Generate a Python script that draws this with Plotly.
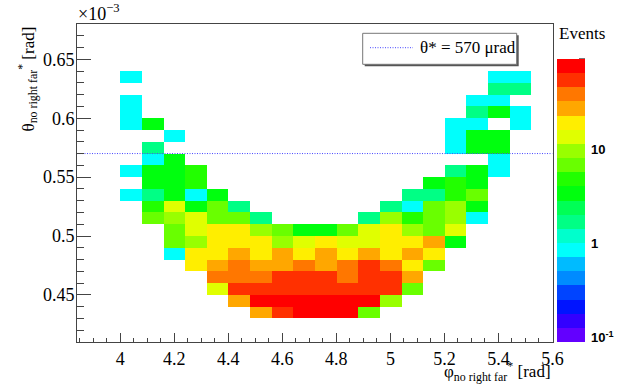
import math
import plotly.graph_objects as go

# ---------------- data ----------------
phi_centers = [3.88, 3.96, 4.04, 4.12, 4.20, 4.28, 4.36, 4.44, 4.52, 4.60, 4.68,
               4.76, 4.84, 4.92, 5.00, 5.08, 5.16, 5.24, 5.32, 5.40, 5.48, 5.56]
# theta* bin centres in units of 1e-3 rad, top row first
theta_centers = [0.675, 0.665, 0.655, 0.645, 0.635, 0.625, 0.615, 0.605, 0.595,
                 0.585, 0.575, 0.565, 0.555, 0.545, 0.535, 0.525, 0.515, 0.505,
                 0.495, 0.485, 0.475, 0.465, 0.455, 0.445, 0.435, 0.425, 0.415]
# events per cell (0 = empty), rows follow theta_centers
events = [
    [0,0,0,0,0,0,0,0,0,0,0,0,0,0,0,0,0,0,0,0,0,0],
    [0,0,0,0,0,0,0,0,0,0,0,0,0,0,0,0,0,0,0,0,0,0],
    [0,0,0,0,0,0,0,0,0,0,0,0,0,0,0,0,0,0,0,0,0,0],
    [0,0,0,0,0,0,0,0,0,0,0,0,0,0,0,0,0,0,0,0,0,0],
    [0,0,1,0,0,0,0,0,0,0,0,0,0,0,0,0,0,0,0,1,1,0],
    [0,0,0,0,0,0,0,0,0,0,0,0,0,0,0,0,0,0,0,2,2,0],
    [0,0,1,0,0,0,0,0,0,0,0,0,0,0,0,0,0,0,1,1,0,0],
    [0,0,1,0,0,0,0,0,0,0,0,0,0,0,0,0,0,0,2,3,1,0],
    [0,0,1,3,0,0,0,0,0,0,0,0,0,0,0,0,0,1,1,0,1,0],
    [0,0,0,0,1,0,0,0,0,0,0,0,0,0,0,0,0,1,3,3,0,0],
    [0,0,0,2,0,0,0,0,0,0,0,0,0,0,0,0,0,1,3,3,0,0],
    [0,0,0,1,3,0,0,0,0,0,0,0,0,0,0,0,0,0,0,1,0,0],
    [0,0,1,3,3,5,0,0,0,0,0,0,0,0,0,0,0,2,3,1,0,0],
    [0,0,0,3,3,5,0,0,0,0,0,0,0,0,0,0,3,5,3,0,0,0],
    [0,0,1,2,3,1,3,0,0,0,0,0,0,0,0,2,2,5,7,0,0,0],
    [0,0,0,5,14,3,7,2,0,0,0,0,0,0,2,1,7,10,3,0,0,0],
    [0,0,0,7,10,14,7,7,2,0,0,0,0,2,10,5,7,10,1,0,0,0],
    [0,0,0,0,7,14,19,19,10,7,3,3,7,14,19,10,7,14,0,0,0,0],
    [0,0,0,0,7,10,19,19,19,10,14,19,14,14,19,19,27,3,0,0,0,0],
    [0,0,0,0,1,19,19,27,19,27,19,27,19,27,19,27,19,0,0,0,0,0],
    [0,0,0,0,0,19,27,38,27,27,38,27,38,54,38,19,7,0,0,0,0,0],
    [0,0,0,0,0,0,38,38,38,54,54,54,38,54,54,27,0,0,0,0,0,0],
    [0,0,0,0,0,0,14,54,54,54,54,54,54,54,54,7,0,0,0,0,0,0],
    [0,0,0,0,0,0,0,27,78,78,78,78,78,78,10,0,0,0,0,0,0,0],
    [0,0,0,0,0,0,0,0,27,54,78,78,78,7,0,0,0,0,0,0,0,0],
    [0,0,0,0,0,0,0,0,0,0,0,0,0,0,0,0,0,0,0,0,0,0],
    [0,0,0,0,0,0,0,0,0,0,0,0,0,0,0,0,0,0,0,0,0,0],
]
theta_star = 0.570          # 570 urad, in 1e-3 rad
phi_range = [3.84, 5.6]
theta_range = [0.41, 0.68]
z_log_range = [-1.04, 1.96]  # colour axis, log10(events)
cbar_major = [0.1, 1, 10]
cbar_major_text = ["<b>10<sup>-1</sup></b>", "<b>1</b>", "<b>10</b>"]

# ROOT "pretty" palette with 20 contour levels
palette = ["#6300ff", "#3300ff", "#0014ff", "#0044ff", "#008bff", "#00bbff",
           "#00fffc", "#00ffcc", "#00ff85", "#00ff55", "#00ff0e", "#22ff00",
           "#69ff00", "#99ff00", "#e0ff00", "#ffee00", "#ffa700", "#ff7700",
           "#ff3000", "#ff0000"]

# ---------------- build ----------------
nb = len(palette)
colorscale = []
for k, c in enumerate(palette):
    colorscale.append([k / nb, c])
    colorscale.append([(k + 1) / nb, c])

zlog = [[(math.log10(v) if v > 0 else None) for v in row] for row in events]

W, H = 623, 388
ML, MR, MT, MB = 77, 38, 24, 46
PW, PH = W - ML - MR, H - MT - MB


def px(x):
    return (x - ML) / PW


def py(y):
    return (H - MB - y) / PH


CB_X0, CB_X1, CB_Y0, CB_Y1 = 557, 585, 341.7, 58.3   # palette box (pixels)
line_blue = "#4848ff"
line_dash = "1px,1.5px"
serif = "Liberation Serif"
axcol = "#444444"

fig = go.Figure()
# main 2D histogram with its palette
fig.add_trace(go.Heatmap(
    x=phi_centers, y=theta_centers, z=zlog,
    colorscale=colorscale, zmin=z_log_range[0], zmax=z_log_range[1],
    showscale=True, hoverongaps=False, xaxis="x", yaxis="y",
    colorbar=dict(x=px(CB_X0), xanchor="left", xpad=0, xref="paper",
                  y=py(CB_Y0), yanchor="bottom", ypad=0, yref="paper",
                  len=CB_Y0 - CB_Y1, lenmode="pixels",
                  thickness=CB_X1 - CB_X0, thicknessmode="pixels", outlinewidth=0,
                  tickmode="array", tickvals=[math.log10(v) for v in cbar_major],
                  ticktext=cbar_major_text, ticks="outside", ticklen=4,
                  tickcolor="rgba(0,0,0,0)", ticklabelposition="outside",
                  tickfont=dict(family="Liberation Sans", size=13, color="black"))))

fig.add_trace(go.Scatter(
    x=phi_range, y=[theta_star, theta_star], mode="lines",
    line=dict(color=line_blue, width=1, dash=line_dash),
    xaxis="x", yaxis="y", hoverinfo="skip", showlegend=False))

fig.update_layout(
    width=W, height=H,
    margin=dict(l=ML, r=MR, t=MT, b=MB, pad=0, autoexpand=False),
    paper_bgcolor="white", plot_bgcolor="white", showlegend=False,
    xaxis=dict(domain=[0, px(552.5)], range=phi_range, anchor="y",
               tick0=4, dtick=0.2, ticks="inside", ticklen=9, tickcolor=axcol,
               minor=dict(tick0=4, dtick=0.05, ticks="inside", ticklen=4.5, tickcolor=axcol),
               showline=True, mirror=True, linecolor=axcol, linewidth=1,
               showgrid=False, zeroline=False,
               tickfont=dict(family=serif, size=18, color="black")),
    yaxis=dict(domain=[0, 1], range=theta_range, anchor="x",
               tick0=0.45, dtick=0.05, ticks="inside", ticklen=14, tickcolor=axcol,
               minor=dict(tick0=0.45, dtick=0.01, ticks="inside", ticklen=7, tickcolor=axcol),
               showline=True, mirror=True, linecolor=axcol, linewidth=1,
               showgrid=False, zeroline=False, ticklabelstandoff=-2,
               tickfont=dict(family=serif, size=18, color="black")),
)

# palette tick marks (ROOT draws them on the right edge, pointing inwards)
for dec in [0.1, 1, 10]:
    for m in range(1, 10):
        v = math.log10(m * dec)
        if not (z_log_range[0] < v < z_log_range[1]):
            continue
        frac = (v - z_log_range[0]) / (z_log_range[1] - z_log_range[0])
        ypix = CB_Y0 - frac * (CB_Y0 - CB_Y1)
        tl = 11 if m == 1 else 6
        fig.add_shape(type="line", xref="paper", yref="paper",
                      x0=px(CB_X1 - tl), x1=px(CB_X1), y0=py(ypix), y1=py(ypix),
                      line=dict(color="#333333", width=1), layer="above")

# legend box (ROOT TLegend with shadow)
lx0, lx1, ly0, ly1 = 362.7, 516.7, 33.3, 64.3
fig.add_shape(type="rect", xref="paper", yref="paper",
              x0=px(lx0 + 2), x1=px(lx1 + 2), y0=py(ly1 + 2), y1=py(ly0 + 2),
              fillcolor="#555555", line=dict(width=0), layer="above")
fig.add_shape(type="rect", xref="paper", yref="paper",
              x0=px(lx0), x1=px(lx1), y0=py(ly1), y1=py(ly0),
              fillcolor="white", line=dict(color="#777777", width=1), layer="above")
fig.add_shape(type="line", xref="paper", yref="paper",
              x0=px(370), x1=px(413), y0=py(47.7), y1=py(47.7),
              line=dict(color=line_blue, width=1, dash=line_dash), layer="above")

annotations = [
    dict(text="θ* = 570 μrad", x=px(418), y=py(47.5), xanchor="left", yanchor="middle",
         font=dict(family=serif, size=17, color="black")),
    dict(text="×10<sup>−3</sup>", x=px(76), y=py(26), xanchor="left", yanchor="bottom",
         font=dict(family=serif, size=18, color="black")),
    dict(text="θ<sub>no right far</sub><sup>*</sup> [rad]", x=px(28), y=py(25),
         xanchor="center", yanchor="top", textangle=-90,
         font=dict(family=serif, size=17, color="black")),
    dict(text="φ<sub>no right far</sub><sup>*</sup> [rad]", x=px(553), y=py(386),
         xanchor="right", yanchor="bottom",
         font=dict(family=serif, size=17, color="black")),
    dict(text="Events", x=px(557), y=py(45), xanchor="left", yanchor="bottom",
         font=dict(family=serif, size=17, color="black")),
]
for a in annotations:
    a.update(xref="paper", yref="paper", showarrow=False)
fig.update_layout(annotations=annotations)

fig.write_html("out.html")
